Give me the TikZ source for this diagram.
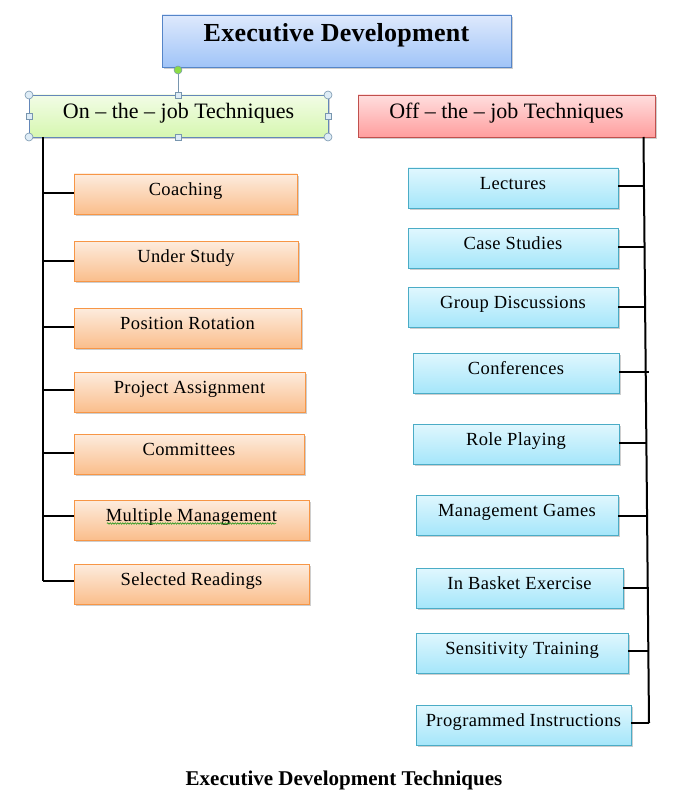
\documentclass[tikz,border=0pt]{standalone}
\usepackage{fontspec}
\setmainfont{Liberation Serif}
\newfontfamily\itemfont[LetterSpace=2]{Liberation Serif}
\newfontfamily\titlefont[LetterSpace=1]{Liberation Serif}
\usetikzlibrary{shadows,decorations.pathmorphing}
\definecolor{tbTop}{RGB}{222,233,252}
\definecolor{tbBot}{RGB}{160,196,248}
\definecolor{tbLine}{RGB}{85,133,200}
\definecolor{gTop}{RGB}{242,252,230}
\definecolor{gBot}{RGB}{214,247,176}
\definecolor{gLine}{RGB}{100,135,185}
\definecolor{rTop}{RGB}{255,222,222}
\definecolor{rBot}{RGB}{255,158,158}
\definecolor{rLine}{RGB}{192,80,77}
\definecolor{oTop}{RGB}{253,236,222}
\definecolor{oBot}{RGB}{250,190,140}
\definecolor{oLine}{RGB}{247,150,70}
\definecolor{cTop}{RGB}{224,247,254}
\definecolor{cBot}{RGB}{165,230,250}
\definecolor{cLine}{RGB}{75,172,198}
\definecolor{hFill}{RGB}{222,236,246}
\definecolor{hLine}{RGB}{120,150,175}
\definecolor{rotG}{RGB}{140,220,70}
\tikzset{
  basebox/.style={rectangle, anchor=north west, inner sep=0pt, outer sep=0pt, line width=0.9pt,
    drop shadow={shadow xshift=1.5pt, shadow yshift=-1.8pt, opacity=0.35, fill=black!55}},
  titlebox/.style={basebox, draw=tbLine, top color=tbTop, bottom color=tbBot,
    font=\titlefont\fontsize{26}{29}\selectfont\bfseries, text height=18pt, text depth=16pt},
  onbox/.style={basebox, draw=gLine, top color=gTop, bottom color=gBot,
    font=\fontsize{22}{25}\selectfont, text height=16pt, text depth=10pt},
  offbox/.style={basebox, draw=rLine, top color=rTop, bottom color=rBot,
    font=\fontsize{22}{25}\selectfont, text height=16pt, text depth=10pt},
  obox/.style={basebox, draw=oLine, top color=oTop, bottom color=oBot, minimum height=40pt,
    font=\itemfont\fontsize{18.5}{20}\selectfont, text height=13pt, text depth=10pt},
  cbox/.style={basebox, draw=cLine, top color=cTop, bottom color=cBot, minimum height=40pt,
    font=\itemfont\fontsize{18.5}{20}\selectfont, text height=13pt, text depth=10pt},
  conn/.style={draw=black, line width=2pt},
  hsq/.style={draw=hLine, fill=hFill, line width=0.6pt, minimum size=6pt, inner sep=0pt, rectangle},
  hci/.style={draw=hLine, fill=hFill, line width=0.6pt, minimum size=8pt, inner sep=0pt, circle},
}
\begin{document}
\begin{tikzpicture}[x=1pt,y=-1pt]
\useasboundingbox (0,0) rectangle (688,805);
\fill[white] (0,0) rectangle (688,805);

% top
\node[titlebox, minimum width=349pt, minimum height=52pt] (top) at (162,15) {Executive Development};
\node[onbox, minimum width=299pt, minimum height=42pt] (on) at (29,95) {On -- the -- job Techniques};
\node[offbox, minimum width=297pt, minimum height=42pt] (off) at (358,95) {Off -- the -- job Techniques};

% left items
\node[obox, minimum width=223pt] (l1) at (74,174) {Coaching};
\node[obox, minimum width=224pt] (l2) at (74,241) {Under Study};
\node[obox, minimum width=227pt] (l3) at (74,308) {Position Rotation};
\node[obox, minimum width=231pt] (l4) at (74,372) {Project Assignment};
\node[obox, minimum width=230pt] (l5) at (74,434) {Committees};
\node[obox, minimum width=235pt] (l6) at (74,500) {Multiple Management};
\node[obox, minimum width=235pt] (l7) at (74,564) {Selected Readings};

% right items
\node[cbox, minimum width=210pt] (r1) at (408,168) {Lectures};
\node[cbox, minimum width=210pt] (r2) at (408,228) {Case Studies};
\node[cbox, minimum width=210pt] (r3) at (408,287) {Group Discussions};
\node[cbox, minimum width=206pt] (r4) at (413,353) {Conferences};
\node[cbox, minimum width=206pt] (r5) at (413,424) {Role Playing};
\node[cbox, minimum width=202pt] (r6) at (416,495) {Management Games};
\node[cbox, minimum width=207pt] (r7) at (416,568) {In Basket Exercise};
\node[cbox, minimum width=212pt] (r8) at (416,633) {Sensitivity Training};
\node[cbox, minimum width=215pt] (r9) at (416,705) {Programmed Instructions};

% left tree
\coordinate (lt0) at (43,137);
\coordinate (lt7) at (43,581);
\draw[conn] (lt0) -- (lt7);
\foreach \n/\y in {l1/193,l2/261,l3/327,l4/390,l5/453,l6/516,l7/581}{
  \coordinate (a\n) at (43,\y);
  \draw[conn] (a\n) -- (\n.west |- a\n);
}

% right tree
\coordinate (rt0) at (643.5,137);
\coordinate (rt9) at (649,723);
\draw[conn] (rt0) -- (rt9);
\foreach \n/\y/\x in {r1/186/644.5,r2/247/645,r3/307/645.5,r4/372/649,r5/443/647,r6/516/648,r7/588/648.5,r8/651/648.5,r9/723/649}{
  \coordinate (b\n) at (\x,\y);
  \draw[conn] (\n.east |- b\n) -- (b\n);
}

% spelling underline
\draw[green!55!black, line width=0.5pt, decorate, decoration={snake, amplitude=0.7pt, segment length=2.5pt}] (107,523.5) -- (276,523.5);

% selection handles
\node[circle, fill=rotG, draw=hLine, line width=0.5pt, minimum size=8pt, inner sep=0pt] (rot) at (178,70) {};
\node[hsq] (hT) at (178,95) {};
\draw[hLine, line width=0.8pt] (rot) -- (hT);
\node[hsq] (hB) at (178,137) {};
\node[hsq] (hL) at (29,116) {};
\node[hsq] (hR) at (328,116) {};
\node[hci] (c1) at (29,95) {};
\node[hci] (c2) at (328,95) {};
\node[hci] (c3) at (29,137) {};
\node[hci] (c4) at (328,137) {};

% caption
\node[font=\fontsize{21}{24}\selectfont\bfseries, anchor=base] (cap) at (344,785) {Executive Development Techniques};
\end{tikzpicture}
\end{document}
